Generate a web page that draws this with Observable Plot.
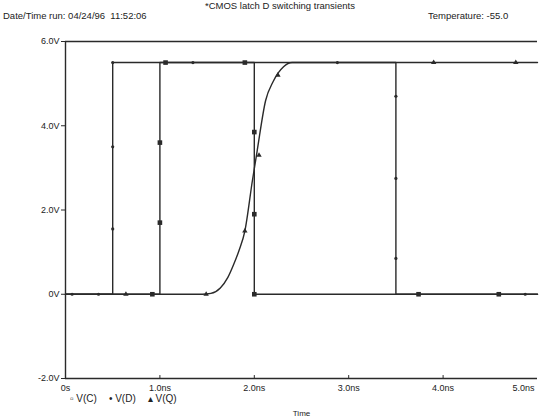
<!DOCTYPE html>
<html><head><meta charset="utf-8">
<script src="https://cdn.jsdelivr.net/npm/d3@7"></script>
<script src="https://cdn.jsdelivr.net/npm/@observablehq/plot@0.6"></script>
<style>
body{margin:0;background:#fff;font-family:"Liberation Sans",Arial,sans-serif;color:#222;}
#wrap{position:relative;width:539px;height:417px;overflow:hidden;}
.t{position:absolute;font-size:9.5px;white-space:nowrap;}
.lg span{margin-right:12px;}
</style></head><body>
<div id="wrap">
<div class="t" style="left:205px;top:0px">*CMOS latch D switching transients</div>
<div class="t" style="left:3px;top:10px">Date/Time run: 04/24/96&nbsp;&nbsp;11:52:06</div>
<div class="t" style="left:428px;top:10px">Temperature: -55.0</div>
<div class="t lg" style="left:70px;top:393px;font-size:10px"><span>▫ V(C)</span><span>• V(D)</span><span>▴ V(Q)</span></div>
</div>
<script>
// Series (time in ns, voltage in V)
const timeC = [0, 1.0, 1.0, 2.0, 2.0, 5.0];
const voltC = [0, 0, 5.5, 5.5, 0, 0];
const timeD = [0, 0.5, 0.5, 3.5, 3.5, 5.0];
const voltD = [0, 0, 5.5, 5.5, 0, 0];
const timeQ = [0, 1.45, 1.54, 1.64, 1.72, 1.78, 1.84, 1.9, 1.98, 2.03, 2.12, 2.2, 2.31, 2.4, 5.0];
const voltQ = [0, 0, 0.02, 0.15, 0.4, 0.7, 1.05, 1.5, 2.7, 3.4, 4.6, 5.05, 5.4, 5.5, 5.5];
// Marker samples
const mkTimeC = [0.92, 1.0, 1.0, 1.06, 1.9, 2.0, 2.0, 2.0, 3.74, 4.59];
const mkVoltC = [0, 1.7, 3.6, 5.5, 5.5, 3.85, 1.9, 0, 0, 0];
const mkTimeD = [0.07, 0.35, 0.5, 0.5, 0.5, 1.35, 2.88, 3.5, 3.5, 3.5, 4.87];
const mkVoltD = [0, 0, 1.55, 3.5, 5.5, 5.5, 5.5, 4.7, 2.75, 0.85, 0];
const mkTimeQ = [0.64, 1.49, 1.9, 2.05, 2.25, 3.9, 4.77];
const mkVoltQ = [0, 0, 1.5, 3.3, 5.2, 5.5, 5.5];
// Tick labels
const xTicks = [0, 1, 2, 3, 4, 5];
const xTickLabels = ["0s", "1.0ns", "2.0ns", "3.0ns", "4.0ns", "5.0ns"];
const yTicks = [6, 4, 2, 0, -2];
const yTickLabels = ["6.0V", "4.0V", "2.0V", "0V", "-2.0V"];

const toPts = (ts, vs) => ts.map((t, i) => ({t, v: vs[i]}));
const C = toPts(timeC, voltC), D = toPts(timeD, voltD), Q = toPts(timeQ, voltQ);
const mC = toPts(mkTimeC, mkVoltC), mD = toPts(mkTimeD, mkVoltD), mQ = toPts(mkTimeQ, mkVoltQ);
const xl = d => xTickLabels[xTicks.indexOf(d)];
const yl = d => yTickLabels[yTicks.indexOf(d)];
const ink = "#2a2a2a";

const chart = Plot.plot({
  width: 539, height: 417,
  marginLeft: 65, marginRight: 2, marginTop: 41, marginBottom: 39,
  style: {fontFamily: "Liberation Sans, Arial, sans-serif", fontSize: "9px", color: "#222", background: "transparent"},
  x: {domain: [0, 5]},
  y: {domain: [-2, 6]},
  marks: [
    Plot.axisY({ticks: yTicks, tickFormat: yl, tickSize: 4, tickPadding: 2, label: null, stroke: ink}),
    Plot.axisX({ticks: xTicks.slice(0, 5), tickFormat: xl, tickSize: 0, tickPadding: 6, label: null}),
    Plot.text(xTicks.slice(5), {x: d => d, text: xl, frameAnchor: "bottom", textAnchor: "end", lineAnchor: "top", dy: 6, dx: -3}),
    Plot.axisX({ticks: [], label: "Time", labelAnchor: "center", labelArrow: "none", labelOffset: 37, fontSize: 8}),
    Plot.ruleX(xTicks.slice(1, 5), {x: d => d, y1: -2, y2: -1.93, stroke: ink}),
    Plot.ruleY([6, -2], {stroke: ink, strokeWidth: 1.4}),
    Plot.ruleX([0], {stroke: ink, strokeWidth: 1.4}),
    Plot.line(C, {x: "t", y: "v", stroke: ink, strokeWidth: 1.4}),
    Plot.line(D, {x: "t", y: "v", stroke: ink, strokeWidth: 1.4}),
    Plot.line(Q, {x: "t", y: "v", stroke: ink, strokeWidth: 1.4, curve: "monotone-x"}),
    Plot.dot(mC, {x: "t", y: "v", symbol: "square", r: 2.6, fill: ink}),
    Plot.dot(mD, {x: "t", y: "v", symbol: "circle", r: 1.6, fill: ink}),
    Plot.dot(mQ, {x: "t", y: "v", symbol: "triangle", r: 2, fill: ink})
  ]
});
document.getElementById("wrap").prepend(chart);
chart.style.position = "absolute";
chart.style.left = "0"; chart.style.top = "0";
</script>
</body></html>
